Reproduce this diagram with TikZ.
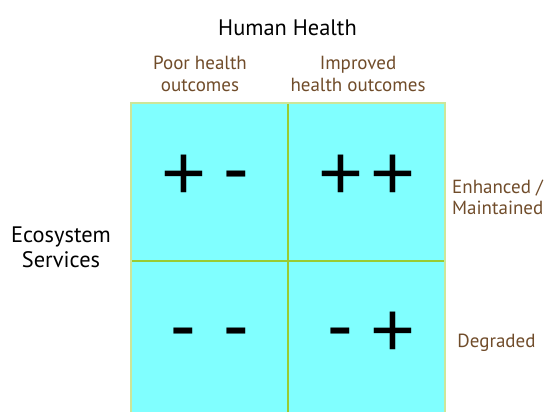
\documentclass[tikz,border=0pt]{standalone}
\usepackage{fontspec}
\setmainfont{PT Sans}
\newfontfamily\signfont{Liberation Sans}
\definecolor{cellfill}{RGB}{128,255,255}
\definecolor{outerline}{RGB}{204,230,153}
\definecolor{innerline}{RGB}{153,204,51}
\definecolor{labelbrown}{RGB}{112,76,42}
\begin{document}
\begin{tikzpicture}[x=1pt,y=-1pt,
  hdr/.style={align=center,text=labelbrown,font=\fontsize{19}{22.4}\selectfont,inner sep=0pt},
  side/.style={align=left,text=labelbrown,font=\fontsize{19}{21}\selectfont,inner sep=0pt},
  title/.style={align=center,text=black,font=\fontsize{22.4}{25}\selectfont,inner sep=0pt},
  sign/.style={font=\signfont\fontsize{77}{77}\selectfont,inner sep=0pt,anchor=base}]
\useasboundingbox (0,0) rectangle (544,412);
% grid
\fill[cellfill] (131,103) rectangle (445,412);
\draw[outerline,line width=2pt] (131,412) -- (131,103) -- (445,103) -- (445,412);
\draw[innerline,line width=2pt] (288,104) -- (288,412);
\draw[innerline,line width=2pt] (132,260.5) -- (444,260.5);
% titles
\node[title,anchor=base] (hh) at (287.5,36) {Human Health};
\node[title,anchor=base] (es1) at (61,242) {Ecosystem};
\node[title,anchor=base] (es2) at (61,267) {Services};
% column headers
\node[hdr,anchor=base] (c1a) at (200,69.3) {Poor health};
\node[hdr,anchor=base] (c1b) at (200,91.7) {outcomes};
\node[hdr,anchor=base] (c2a) at (358,69.3) {Improved};
\node[hdr,anchor=base] (c2b) at (358,91.7) {health outcomes};
% row labels
\node[side,anchor=base west] (r1a) at (452,193) {Enhanced /};
\node[side,anchor=base west] (r1b) at (452,214) {Maintained};
\node[side,anchor=base] (r2) at (496.5,347) {Degraded};
% signs
\node[sign] (p1) at (183.5,199) {+};
\node[sign] (m1) at (236,194) {-};
\node[sign] (p2) at (340.5,199) {+};
\node[sign] (p3) at (392.5,199) {+};
\node[sign] (m2) at (183,351) {-};
\node[sign] (m3) at (236,351) {-};
\node[sign] (m4) at (340,351) {-};
\node[sign] (p4) at (392.5,356) {+};
\end{tikzpicture}
\end{document}
